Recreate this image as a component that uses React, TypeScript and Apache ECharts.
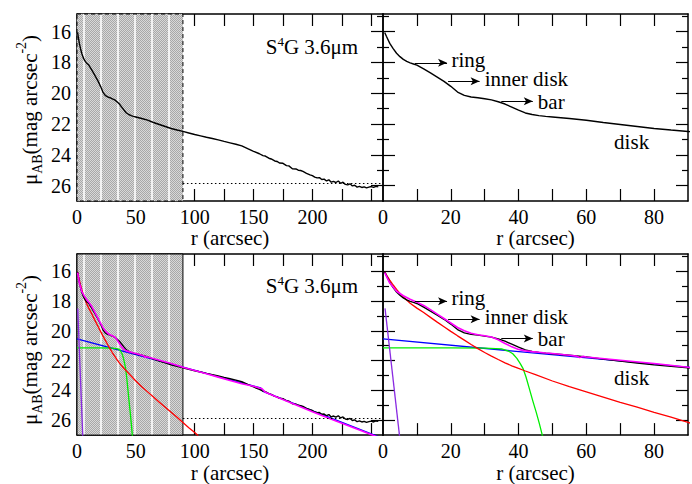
import React, { useEffect, useRef } from 'react';
import * as echarts from 'echarts';

const FONT = 'Liberation Serif';

// observed surface-brightness profile (r in arcsec, mag/arcsec^2)
const profileR = [0.5,1,2,3,4,5,6,7,8,9,10,12,14,16,18,20,22,24,26,28,30,32,34,36,38,40,42,44,46,48,50,55,60,65,70,75,80,85,90,95,100,105,110,115,120,125,130,135,140,145,150,155,158,160,163,165,168,170,172,175,178,180,183,186,188,190,192,195,198,200,202,204,206,208,210,212,214,216,218,220,222,224,226,228,230,232,234,236,238,240,242,244,246,248,250,252,254,256];
const profileMag = [16.05,16.3,16.76,17.1,17.4,17.62,17.8,17.93,18.03,18.1,18.17,18.42,18.68,18.95,19.23,19.55,19.92,20.14,20.24,20.29,20.36,20.43,20.55,20.7,20.9,21.1,21.28,21.38,21.45,21.5,21.54,21.64,21.75,21.9,22.03,22.16,22.29,22.39,22.48,22.58,22.68,22.77,22.86,22.94,23.03,23.13,23.22,23.31,23.42,23.6,23.77,23.93,24.05,24.08,24.22,24.27,24.4,24.43,24.53,24.55,24.7,24.72,24.9,24.92,25.0,25.02,25.08,25.2,25.3,25.35,25.45,25.5,25.48,25.6,25.58,25.7,25.62,25.78,25.72,25.8,25.7,25.85,25.78,25.92,25.95,25.88,26.02,25.98,26.1,26.05,26.12,26.08,26.15,26.1,26.06,26.12,26.05,26.08];

// total model (magenta)
const modelR = [0.5,2,4,6,8,10,12,14,16,18,20,22,24,26,28,30,32,34,36,38,40,42,44,46,48,50,55,57,58,59,60,70,80,90,100,110,120,130,140,150,155,157,160,180,200,220,240,252,255];
const modelMag = [16.1,16.8,17.35,17.65,17.88,18.08,18.3,18.58,18.88,19.18,19.48,19.78,20.0,20.17,20.27,20.33,20.42,20.6,20.85,21.08,21.25,21.35,21.4,21.44,21.49,21.53,21.64,21.7,21.8,21.72,21.76,21.98,22.2,22.45,22.67,22.89,23.11,23.33,23.55,23.72,23.84,23.88,24.12,24.78,25.44,26.06,26.66,27.03,27.12];

// disk (blue)
const diskR = [0, 156, 158, 256];
const diskMag = [20.55, 23.84, 24.06, 27.1];

// bar (green)
const barR = [0, 20, 30, 35, 37, 38.3, 39.5, 40.5, 41.3, 42.2, 43.2, 44.2, 45.2, 46.1, 47, 47.5];
const barMag = [21.15, 21.15, 21.17, 21.22, 21.36, 21.54, 21.85, 22.2, 22.52, 23.1, 23.9, 24.7, 25.46, 26.2, 27.0, 27.4];

// bulge (red)
const bulgeR = [0.5,1,2,3,4,5,6,8,10,12,14,16,18,20,22,24,26,28,30,32,34,36,38,40,42,45,50,55,60,65,70,75,80,85,90,95,100,103];
const bulgeMag = [16.05,16.25,16.6,16.93,17.22,17.5,17.74,18.15,18.48,18.78,19.1,19.42,19.73,20.04,20.34,20.63,20.92,21.2,21.46,21.7,21.93,22.15,22.35,22.53,22.7,22.95,23.37,23.75,24.1,24.45,24.8,25.13,25.47,25.8,26.15,26.5,26.83,27.05];

// nucleus (purple)
const nucR = [0.6, 4.9];
const nucMag = [18.5, 27.1];

// axes
const Y_MIN = 14.85;
const Y_MAX = 27;
const yMajor = [16, 18, 20, 22, 24, 26];
const yMinor = [15, 17, 19, 21, 23, 25];
const leftXMax = 260;
const leftXTicks = [25, 50, 75, 100, 125, 150, 175, 200, 225, 250];
const leftXLabels = [0, 50, 100, 150, 200];
const rightXMax = 90;
const rightXTicks = [10, 20, 30, 40, 50, 60, 70, 80];
const rightXLabels = [0, 20, 40, 60, 80];

// annotations
const MU = 'μ';
const shadeLimit = 90;
const noiseLevel = 25.85;
const s4gPos = [160.4, 17.0];
const annotLabels = ['ring', 'inner disk', 'bar', 'disk'];
const annotR = [20.2, 30.0, 45.7, 68.2];
const annotMag = [17.81, 19.09, 20.54, 23.15];
const arrowFromR = [9.4, 19.2, 34.9];
const arrowToR = [18.9, 28.5, 44.2];
const arrowMag = [18.02, 19.22, 20.52];

const zip = (a: number[], b: number[]) => a.map((v, i) => [v, b[i]]);

const gridBoxes = [
  { left: 77, top: 14, width: 306, height: 187 },
  { left: 383, top: 14, width: 305, height: 187 },
  { left: 77, top: 254, width: 306, height: 187 },
  { left: 383, top: 254, width: 305, height: 187 },
];

function makeShade() {
  const c = document.createElement('canvas');
  c.width = 17;
  c.height = 2;
  const ctx = c.getContext('2d')!;
  for (let y = 0; y < 2; y++) {
    for (let x = 0; x < 17; x++) {
      ctx.fillStyle = x >= 15 ? '#f2f2f2' : (x + y) % 2 === 0 ? '#a8a8a8' : '#d8d8d8';
      ctx.fillRect(x, y, 1, 1);
    }
  }
  return { image: c, repeat: 'repeat', imageWidth: 17, imageHeight: 2 } as any;
}

const tickStyle = { color: '#000', width: 1.2 };
const lineAx = { show: true, onZero: false, lineStyle: { color: '#000', width: 1.5 } };
const labelFont = { fontFamily: FONT, fontSize: 20, color: '#000' };

function xAxesFor(g: number, isLeft: boolean) {
  const base: any = {
    type: 'value',
    gridIndex: g,
    min: 0,
    max: isLeft ? leftXMax : rightXMax,
    splitLine: { show: false },
    axisLine: lineAx,
    axisTick: { show: true, inside: true, length: 12, customValues: isLeft ? leftXTicks : rightXTicks, lineStyle: tickStyle },
  };
  return [
    {
      ...base,
      position: 'bottom',
      axisLabel: { ...labelFont, show: true, customValues: isLeft ? leftXLabels : rightXLabels, margin: 6 },
      name: 'r (arcsec)',
      nameLocation: 'middle',
      nameGap: 20,
      nameTextStyle: { fontFamily: FONT, fontSize: 21, color: '#000' },
    },
    { ...base, position: 'top', axisLabel: { show: false } },
  ];
}

function yAxesFor(g: number, withLabels: boolean) {
  const base: any = { type: 'value', gridIndex: g, min: Y_MIN, max: Y_MAX, inverse: true, splitLine: { show: false } };
  const major = (pos: string, labels: boolean) => ({
    ...base,
    position: pos,
    axisLine: lineAx,
    axisTick: { show: true, inside: true, length: 12, customValues: yMajor, lineStyle: tickStyle },
    axisLabel: labels ? { ...labelFont, show: true, customValues: yMajor, margin: 6 } : { show: false },
  });
  const minor = (pos: string) => ({
    ...base,
    position: pos,
    axisLine: { show: false, onZero: false },
    axisTick: { show: true, inside: true, length: 6, customValues: yMinor, lineStyle: tickStyle },
    axisLabel: { show: false },
  });
  return [major('left', withLabels), minor('left'), major('right', false), minor('right')];
}

function leftMarkers(solidEdge: boolean, shade: any) {
  return {
    markArea: {
      silent: true,
      itemStyle: { color: shade, borderColor: '#000', borderWidth: 1, borderType: solidEdge ? 'solid' : [4, 3] },
      data: [[{ xAxis: 0 }, { xAxis: shadeLimit }]],
    },
    markLine: {
      silent: true,
      symbol: ['none', 'none'],
      label: { show: false },
      lineStyle: { color: '#000', width: 1, type: [1.5, 2.5] },
      data: [[{ coord: [shadeLimit, noiseLevel] }, { coord: [leftXMax, noiseLevel] }]],
    },
    markPoint: {
      symbol: 'circle',
      symbolSize: 0,
      label: {
        show: true,
        position: 'right',
        distance: 0,
        fontFamily: FONT,
        fontSize: 21,
        color: '#000',
        formatter: '{n|S}{s|4}{n|G 3.6' + MU + 'm}',
        rich: {
          n: { fontFamily: FONT, fontSize: 21, lineHeight: 24 },
          s: { fontFamily: FONT, fontSize: 13, lineHeight: 9, verticalAlign: 'top' },
        },
      },
      data: [{ coord: s4gPos }],
    },
  };
}

function rightMarkers() {
  return {
    markLine: {
      silent: true,
      label: { show: false },
      symbolSize: [6, 9],
      lineStyle: { color: '#000', width: 1, type: 'solid' },
      data: arrowMag.map((m, i) => [
        { coord: [arrowFromR[i], m], symbol: 'none' },
        { coord: [arrowToR[i], m], symbol: 'arrow' },
      ]),
    },
    markPoint: {
      symbol: 'circle',
      symbolSize: 0,
      label: { show: true, position: 'right', distance: 0, fontFamily: FONT, fontSize: 21, color: '#000' },
      data: annotLabels.map((t, i) => ({
        coord: [annotR[i], annotMag[i]],
        label: { fontFamily: FONT, fontSize: 21, color: '#000', formatter: t },
      })),
    },
  };
}

function lineSeries(g: number, data: number[][], color: string, z: number, width = 1.4, extra: any = {}) {
  return {
    type: 'line',
    xAxisIndex: 2 * g,
    yAxisIndex: 4 * g,
    data,
    symbol: 'none',
    z,
    lineStyle: { color, width },
    ...extra,
  };
}

function buildOption() {
  const shade = makeShade();
  const profile = zip(profileR, profileMag);
  const series: any[] = [];
  series.push(lineSeries(0, profile, '#000', 3, 1.4, leftMarkers(false, shade)));
  series.push(lineSeries(1, profile, '#000', 3, 1.4, rightMarkers()));
  [2, 3].forEach((g) => {
    series.push(lineSeries(g, zip(diskR, diskMag), '#0000ff', 2, 1.3));
    series.push(lineSeries(g, zip(barR, barMag), '#00ee00', 2, 1.3));
    series.push(lineSeries(g, zip(bulgeR, bulgeMag), '#ff0000', 2, 1.3));
    series.push(lineSeries(g, zip(nucR, nucMag), '#8a2be2', 2, 1.3));
    series.push(lineSeries(g, profile, '#000', 3, 1.4, g === 2 ? leftMarkers(true, shade) : rightMarkers()));
    series.push(lineSeries(g, zip(modelR, modelMag), '#ff00ff', 4, 1.6));
  });

  const yTitle = (cy: number) => ({
    type: 'text',
    x: 29.5,
    y: cy,
    rotation: Math.PI / 2,
    style: {
      text: '{m|' + MU + '}{b|AB}{m|(mag arcsec}{p|-2}{m|)}',
      align: 'center',
      verticalAlign: 'middle',
      fontFamily: FONT,
      fontSize: 21,
      rich: {
        m: { fontFamily: FONT, fontSize: 21, lineHeight: 30 },
        b: { fontFamily: FONT, fontSize: 14, lineHeight: 13, verticalAlign: 'bottom' },
        p: { fontFamily: FONT, fontSize: 14, lineHeight: 4, verticalAlign: 'top' },
      },
    },
  });

  return {
    animation: false,
    grid: gridBoxes,
    xAxis: [...xAxesFor(0, true), ...xAxesFor(1, false), ...xAxesFor(2, true), ...xAxesFor(3, false)],
    yAxis: [...yAxesFor(0, true), ...yAxesFor(1, false), ...yAxesFor(2, true), ...yAxesFor(3, false)],
    series,
    graphic: [yTitle(110), yTitle(350)],
  };
}

const fontCss = "#chart-root svg text, #chart-root svg tspan { font-family: 'Liberation Serif', 'Times New Roman', serif !important; }";

export default function App() {
  const ref = useRef<HTMLDivElement>(null);
  useEffect(() => {
    const el = ref.current;
    if (!el) return;
    const chart = echarts.init(el, undefined, { renderer: 'svg' });
    chart.setOption(buildOption() as any);
    return () => chart.dispose();
  }, []);
  return (
    <>
      <style>{fontCss}</style>
      <div
        id="chart-root"
        ref={ref}
        style={{ position: 'fixed', left: 0, top: 0, width: 692, height: 484, background: '#fff', fontFamily: FONT }}
      />
    </>
  );
}
